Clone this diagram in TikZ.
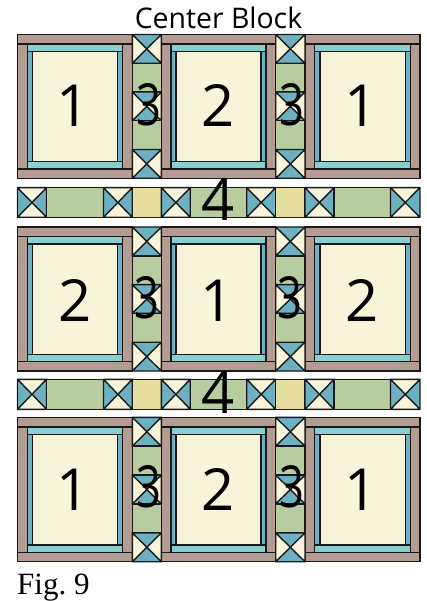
\documentclass[tikz,border=0pt]{standalone}
\usepackage{fontspec}
\setmainfont{Open Sans}
\newfontfamily\serifface{Liberation Serif}
\definecolor{brownq}{HTML}{B59C92}
\definecolor{lteal}{HTML}{8ACFD0}
\definecolor{dteal}{HTML}{6CB0C2}
\definecolor{creamq}{HTML}{F8F4DA}
\definecolor{greenq}{HTML}{B7CC9F}
\definecolor{yellowq}{HTML}{E6DD9F}
\tikzset{
  patch/.style={draw=black!90,line width=1.4pt,line join=miter},
  biglabel/.style={inner sep=0pt,font=\fontsize{58}{58}\selectfont,text=black,anchor=base},
}
% \xcell{x0}{y0}{x1}{y1}{colour top/bottom}{colour left/right}
\newcommand{\xcell}[6]{%
  \fill[#5] (#1,#2) -- (#3,#2) -- ({(#1+#3)/2},{(#2+#4)/2}) -- cycle;
  \fill[#5] (#1,#4) -- (#3,#4) -- ({(#1+#3)/2},{(#2+#4)/2}) -- cycle;
  \fill[#6] (#1,#2) -- (#1,#4) -- ({(#1+#3)/2},{(#2+#4)/2}) -- cycle;
  \fill[#6] (#3,#2) -- (#3,#4) -- ({(#1+#3)/2},{(#2+#4)/2}) -- cycle;
  \draw[patch] (#1,#2) rectangle (#3,#4) (#1,#2) -- (#3,#4) (#1,#4) -- (#3,#2);
}
% \framedblock{x0}{y0}{x1}{y1}
\newcommand{\framedblock}[4]{%
  \pgfmathsetmacro{\bxa}{#1+9.7}\pgfmathsetmacro{\bxb}{#3-9.7}
  \pgfmathsetmacro{\bya}{#2+9.5}\pgfmathsetmacro{\byb}{#4-9.3}
  \pgfmathsetmacro{\cxa}{#1+14.8}\pgfmathsetmacro{\cxb}{#3-14.8}
  \pgfmathsetmacro{\cya}{#2+17}\pgfmathsetmacro{\cyb}{#4-16.6}
  \draw[patch,fill=brownq] (#1,#2) rectangle (#3,\bya);
  \draw[patch,fill=brownq] (#1,\byb) rectangle (#3,#4);
  \draw[patch,fill=brownq] (#1,\bya) rectangle (\bxa,\byb);
  \draw[patch,fill=brownq] (\bxb,\bya) rectangle (#3,\byb);
  \draw[patch,fill=lteal] (\bxa,\bya) rectangle (\bxb,\cya);
  \draw[patch,fill=lteal] (\bxa,\cyb) rectangle (\bxb,\byb);
  \draw[patch,fill=dteal] (\bxa,\cya) rectangle (\cxa,\cyb);
  \draw[patch,fill=dteal] (\cxb,\cya) rectangle (\bxb,\cyb);
  \draw[patch,fill=creamq] (\cxa,\cya) rectangle (\cxb,\cyb);
}
% \sashcol{x0}{y0}{x1}{y1}
\newcommand{\sashcol}[4]{%
  \pgfmathsetmacro{\sh}{(#4-#2)/5}
  \pgfmathsetmacro{\sya}{#2+\sh}\pgfmathsetmacro{\syb}{#2+2*\sh}
  \pgfmathsetmacro{\syc}{#2+3*\sh}\pgfmathsetmacro{\syd}{#2+4*\sh}
  \xcell{#1}{#2}{#3}{\sya}{dteal}{creamq}
  \draw[patch,fill=greenq] (#1,\sya) rectangle (#3,\syb);
  \xcell{#1}{\syb}{#3}{\syc}{dteal}{creamq}
  \draw[patch,fill=greenq] (#1,\syc) rectangle (#3,\syd);
  \xcell{#1}{\syd}{#3}{#4}{dteal}{creamq}
}
% \blockrow{y0}{y1}
\newcommand{\blockrow}[2]{%
  \framedblock{17.5}{#1}{132.3}{#2}
  \framedblock{161.3}{#1}{275.7}{#2}
  \framedblock{305}{#1}{420}{#2}
  \sashcol{132.3}{#1}{161.3}{#2}
  \sashcol{275.7}{#1}{305}{#2}
}
% \stripband{y0}{y1}
\newcommand{\stripband}[2]{%
  \xcell{17.5}{#1}{46.5}{#2}{creamq}{dteal}
  \draw[patch,fill=greenq] (46.5,#1) rectangle (103.5,#2);
  \xcell{103.5}{#1}{132.3}{#2}{creamq}{dteal}
  \draw[patch,fill=yellowq] (132.3,#1) rectangle (161.3,#2);
  \xcell{161.3}{#1}{190.3}{#2}{creamq}{dteal}
  \draw[patch,fill=greenq] (190.3,#1) rectangle (246.7,#2);
  \xcell{246.7}{#1}{275.7}{#2}{creamq}{dteal}
  \draw[patch,fill=yellowq] (275.7,#1) rectangle (305,#2);
  \xcell{305}{#1}{334}{#2}{creamq}{dteal}
  \draw[patch,fill=greenq] (334,#1) rectangle (390.5,#2);
  \xcell{390.5}{#1}{420}{#2}{creamq}{dteal}
}
\newcommand{\narrowthree}{\scalebox{.75}[1]{3}}
\begin{document}
\begin{tikzpicture}[x=1pt,y=-1pt]
\useasboundingbox (0,0) rectangle (427,601);
\blockrow{34.5}{178.3}
\stripband{187.7}{217.3}
\blockrow{227}{371}
\stripband{379.3}{409.3}
\blockrow{417.3}{561.7}
\node[inner sep=0pt,anchor=base,font=\fontsize{28.4}{28.4}\selectfont] (title) at (218.5,29) {Center Block};
\node[inner sep=0pt,anchor=base west,font=\serifface\frenchspacing\fontsize{31}{31}\selectfont] (fig) at (17,594) {Fig. 9};
\node[biglabel] (a1) at (73,127) {1};
\node[biglabel] (a2) at (218,127) {2};
\node[biglabel] (a3) at (361,127) {1};
\node[biglabel] (s1) at (148.5,125.5) {\narrowthree};
\node[biglabel] (s2) at (291.5,125.5) {\narrowthree};
\node[biglabel] (f1) at (218.5,221) {4};
\node[biglabel] (b1) at (75,321) {2};
\node[biglabel] (b2) at (217,321) {1};
\node[biglabel] (b3) at (362,321) {2};
\node[biglabel] (s3) at (146.5,318) {\narrowthree};
\node[biglabel] (s4) at (290,318) {\narrowthree};
\node[biglabel] (f2) at (218.5,413) {4};
\node[biglabel] (c1) at (73,510) {1};
\node[biglabel] (c2) at (218,510) {2};
\node[biglabel] (c3) at (361,510) {1};
\node[biglabel] (s5) at (148.5,507.5) {\narrowthree};
\node[biglabel] (s6) at (291.5,507.5) {\narrowthree};
\end{tikzpicture}
\end{document}
